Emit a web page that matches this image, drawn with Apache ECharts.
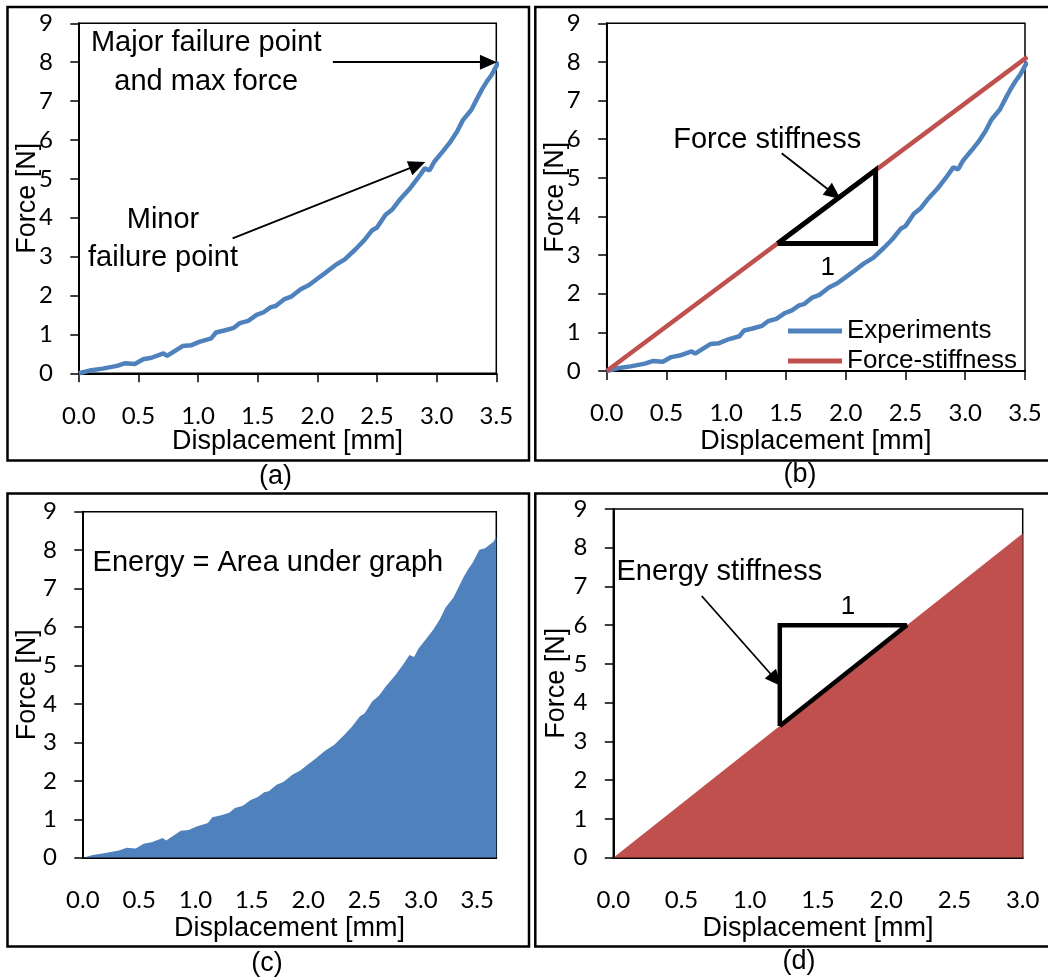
<!DOCTYPE html>
<html>
<head>
<meta charset="utf-8">
<script src="https://cdn.jsdelivr.net/npm/echarts@6/dist/echarts.min.js"></script>
<style>
  html, body { margin: 0; padding: 0; background: #ffffff; }
  #chart { width: 1048px; height: 978px; }
</style>
</head>
<body>
<div id="chart"></div>
<script>
// Measured force–displacement response of the specimen
const displacement = [0, 0.09, 0.20, 0.32, 0.39, 0.47, 0.54, 0.61, 0.71, 0.74, 0.87, 0.94, 1.01, 1.11, 1.15,
  1.22, 1.30, 1.35, 1.42, 1.49, 1.55, 1.61, 1.65, 1.72, 1.78, 1.86, 1.93, 2.00, 2.07, 2.15, 2.23, 2.32,
  2.39, 2.46, 2.50, 2.57, 2.63, 2.69, 2.77, 2.84, 2.90, 2.94, 2.98, 3.05, 3.11, 3.17, 3.22, 3.29, 3.34,
  3.38, 3.42, 3.46, 3.52, 3.57, 3.645, 3.67];
const force = [0, 0.07, 0.12, 0.19, 0.26, 0.24, 0.36, 0.40, 0.51, 0.45, 0.70, 0.72, 0.81, 0.90, 1.05,
  1.10, 1.17, 1.29, 1.35, 1.50, 1.57, 1.70, 1.73, 1.90, 1.97, 2.16, 2.27, 2.43, 2.59, 2.78, 2.93, 3.19,
  3.41, 3.68, 3.75, 4.07, 4.22, 4.46, 4.73, 5.01, 5.27, 5.22, 5.44, 5.70, 5.93, 6.21, 6.51, 6.77, 7.07,
  7.30, 7.50, 7.67, 8.01, 8.05, 8.22, 8.35];

// Linear force-stiffness fit
const forceStiffDisp = [0, 3.52];
const forceStiffForce = [0, 8.13];
// Linear energy-stiffness line
const energyStiffDisp = [0, 3.0];
const energyStiffForce = [0, 8.37];

// Slope triangles (vertices in data units)
const forceTriDisp = [1.43, 2.25, 2.25, 1.43];
const forceTriForce = [3.30, 5.20, 3.30, 3.30];
const energyTriDisp = [1.22, 2.15, 1.22, 1.22];
const energyTriForce = [3.40, 6.00, 6.00, 3.40];

// Axis ranges
const forceMax = 9;
const dispMaxAB = 3.5;
const dispMaxC = 3.67;
const dispMaxD = 3.0;

const zip = (xs, ys) => xs.map((x, i) => [x, ys[i]]);
const curveFull = zip(displacement, force);
const curveAB = curveFull.filter(p => p[0] <= 3.52);

const BLUE = '#4F81BD';
const RED = '#C0504D';
const TEXT_FONT = '"Liberation Sans", Arial, sans-serif';
const TICK_FONT = 'Lato, "Open Sans", sans-serif';

const chart = echarts.init(document.getElementById('chart'), null, { renderer: 'canvas' });

function xAxisFor(gridIndex, max, showTicks, labelMargin, nameGap) {
  return {
    type: 'value', gridIndex, min: 0, max, interval: 0.5,
    axisLine: { show: true, lineStyle: { color: '#000', width: 2 } },
    axisTick: { show: showTicks, inside: false, length: 9, lineStyle: { color: '#000', width: 1.5 } },
    splitLine: { show: false },
    axisLabel: {
      color: '#000', fontFamily: TICK_FONT, fontSize: 24, margin: labelMargin,
      showMaxLabel: max % 0.5 === 0,
      formatter: v => (Math.abs(v / 0.5 - Math.round(v / 0.5)) < 1e-6 ? v.toFixed(1) : '')
    },
    name: 'Displacement [mm]', nameLocation: 'middle', nameGap, nameMoveOverlap: false,
    nameTextStyle: { color: '#000', fontFamily: TEXT_FONT, fontSize: 27 }
  };
}
function yAxisFor(gridIndex, nameGap) {
  return {
    type: 'value', gridIndex, min: 0, max: forceMax, interval: 1,
    axisLine: { show: true, lineStyle: { color: '#000', width: 2 } },
    axisTick: { show: true, inside: false, length: 8.5, lineStyle: { color: '#000', width: 1.5 } },
    splitLine: { show: false },
    axisLabel: { color: '#000', fontFamily: TICK_FONT, fontSize: 24, margin: 26 },
    name: 'Force [N]', nameLocation: 'middle', nameGap, nameRotate: 90, nameMoveOverlap: false,
    nameTextStyle: { color: '#000', fontFamily: TEXT_FONT, fontSize: 27 }
  };
}

const arrowStyle = {
  silent: true, symbol: ['none', 'triangle'], symbolSize: [15, 17],
  lineStyle: { color: '#000', width: 1.8, type: 'solid' },
  label: { show: false }, emphasis: { disabled: true }
};

const gridBorder = { show: true, borderColor: '#000', borderWidth: 1.5, backgroundColor: 'transparent' };

const option = {
  animation: false,
  backgroundColor: '#fff',
  grid: [
    Object.assign({ left: 78.8, top: 23.3, width: 417.5, height: 350 }, gridBorder),
    Object.assign({ left: 606.7, top: 23.3, width: 418.3, height: 347.7 }, gridBorder),
    Object.assign({ left: 82.8, top: 511.7, width: 413.5, height: 346 }, gridBorder),
    Object.assign({ left: 613.3, top: 509, width: 409.4, height: 348.7 }, gridBorder)
  ],
  xAxis: [
    xAxisFor(0, dispMaxAB, true, 31, 55),
    xAxisFor(1, dispMaxAB, true, 30, 57),
    xAxisFor(2, dispMaxC, false, 31, 57),
    xAxisFor(3, dispMaxD, false, 31, 57)
  ],
  yAxis: [yAxisFor(0, 38), yAxisFor(1, 38), yAxisFor(2, 42), yAxisFor(3, 43)],
  legend: {
    data: ['Experiments', 'Force-stiffness'],
    orient: 'vertical', left: 783, top: 313, itemGap: 4,
    icon: 'rect', itemWidth: 54, itemHeight: 5,
    textStyle: { color: '#000', fontFamily: TEXT_FONT, fontSize: 26, padding: [0, 0, 0, 0] },
    selectedMode: false
  },
  series: [
    // (a) experimental curve with failure annotations
    {
      type: 'line', xAxisIndex: 0, yAxisIndex: 0, data: curveAB, showSymbol: false, symbol: 'none',
      clip: false, lineStyle: { color: BLUE, width: 4.5 }, itemStyle: { color: BLUE },
      markLine: Object.assign({
        data: [
          [{ coord: [2.13, 8.0] }, { coord: [3.434, 8.0] }],
          [{ coord: [1.289, 3.47] }, { coord: [2.839, 5.355] }]
        ]
      }, arrowStyle)
    },
    // (b) experiments versus linear force stiffness
    {
      name: 'Experiments', type: 'line', xAxisIndex: 1, yAxisIndex: 1, data: curveAB, symbol: 'none',
      clip: false, lineStyle: { color: BLUE, width: 4.5 }, itemStyle: { color: BLUE }
    },
    {
      name: 'Force-stiffness', type: 'line', xAxisIndex: 1, yAxisIndex: 1,
      data: zip(forceStiffDisp, forceStiffForce), symbol: 'none', clip: false,
      lineStyle: { color: RED, width: 4.5 }, itemStyle: { color: RED },
      markLine: Object.assign({
        data: [[{ coord: [1.464, 5.636] }, { coord: [1.902, 4.582] }]]
      }, arrowStyle)
    },
    {
      type: 'line', xAxisIndex: 1, yAxisIndex: 1, data: zip(forceTriDisp, forceTriForce), symbol: 'none',
      z: 5, lineStyle: { color: '#000', width: 5, join: 'miter', miterLimit: 3 }, itemStyle: { color: '#000' }
    },
    // (c) energy as area under the curve
    {
      type: 'line', xAxisIndex: 2, yAxisIndex: 2, data: curveFull, symbol: 'none',
      lineStyle: { width: 0, color: BLUE }, itemStyle: { color: BLUE },
      areaStyle: { color: BLUE, opacity: 1 }
    },
    // (d) linear energy stiffness
    {
      type: 'line', xAxisIndex: 3, yAxisIndex: 3, data: zip(energyStiffDisp, energyStiffForce), symbol: 'none',
      lineStyle: { width: 0, color: RED }, itemStyle: { color: RED },
      areaStyle: { color: RED, opacity: 1 },
      markLine: Object.assign({
        data: [[{ coord: [0.648, 6.755] }, { coord: [1.192, 4.587] }]]
      }, arrowStyle)
    },
    {
      type: 'line', xAxisIndex: 3, yAxisIndex: 3, data: zip(energyTriDisp, energyTriForce), symbol: 'none',
      z: 5, lineStyle: { color: '#000', width: 4.5, join: 'miter', miterLimit: 3 }, itemStyle: { color: '#000' }
    }
  ]
};
chart.setOption(option);

// Text annotations anchored in data units of each panel
const notes = [
  { grid: 0, at: [1.068, 7.99], text: 'Major failure point\nand max force', size: 29, lh: 38.4 },
  { grid: 0, at: [0.706, 3.45], text: 'Minor\nfailure point', size: 29, lh: 38.4 },
  { grid: 1, at: [1.343, 5.98], text: 'Force stiffness', size: 29, lh: 34 },
  { grid: 1, at: [1.85, 2.67], text: '1', size: 26, lh: 30 },
  { grid: 2, at: [1.643, 7.66], text: 'Energy = Area under graph', size: 29, lh: 34 },
  { grid: 3, at: [0.777, 7.38], text: 'Energy stiffness', size: 29, lh: 34 },
  { grid: 3, at: [1.72, 6.48], text: '1', size: 26, lh: 30 }
];
const graphics = notes.map(n => {
  const p = chart.convertToPixel({ gridIndex: n.grid }, n.at);
  return {
    type: 'text', x: p[0], y: p[1], z: 10, silent: true,
    style: { text: n.text, fill: '#000', font: n.size + 'px ' + TEXT_FONT, lineHeight: n.lh,
      align: 'center', verticalAlign: 'middle' }
  };
});

// Panel frames and sub-figure captions
const frames = [
  { x: 7.5, y: 7, w: 521.5, h: 453.5 },
  { x: 535.3, y: 7, w: 530, h: 453.5 },
  { x: 7.5, y: 493.5, w: 521.5, h: 453 },
  { x: 535.3, y: 493.5, w: 530, h: 453 }
];
frames.forEach(f => graphics.push({
  type: 'rect', silent: true, z: 0,
  shape: { x: f.x, y: f.y, width: f.w, height: f.h },
  style: { fill: null, stroke: '#000', lineWidth: 2.5 }
}));
const captions = [
  { t: '(a)', x: 275.5, y: 476.7 }, { t: '(b)', x: 800, y: 475 },
  { t: '(c)', x: 267, y: 963.3 }, { t: '(d)', x: 799, y: 961.7 }
];
captions.forEach(c => graphics.push({
  type: 'text', x: c.x, y: c.y, silent: true,
  style: { text: c.t, fill: '#000', font: '27px ' + TEXT_FONT, align: 'center', verticalAlign: 'middle' }
}));

chart.setOption({ graphic: graphics });
</script>
</body>
</html>
